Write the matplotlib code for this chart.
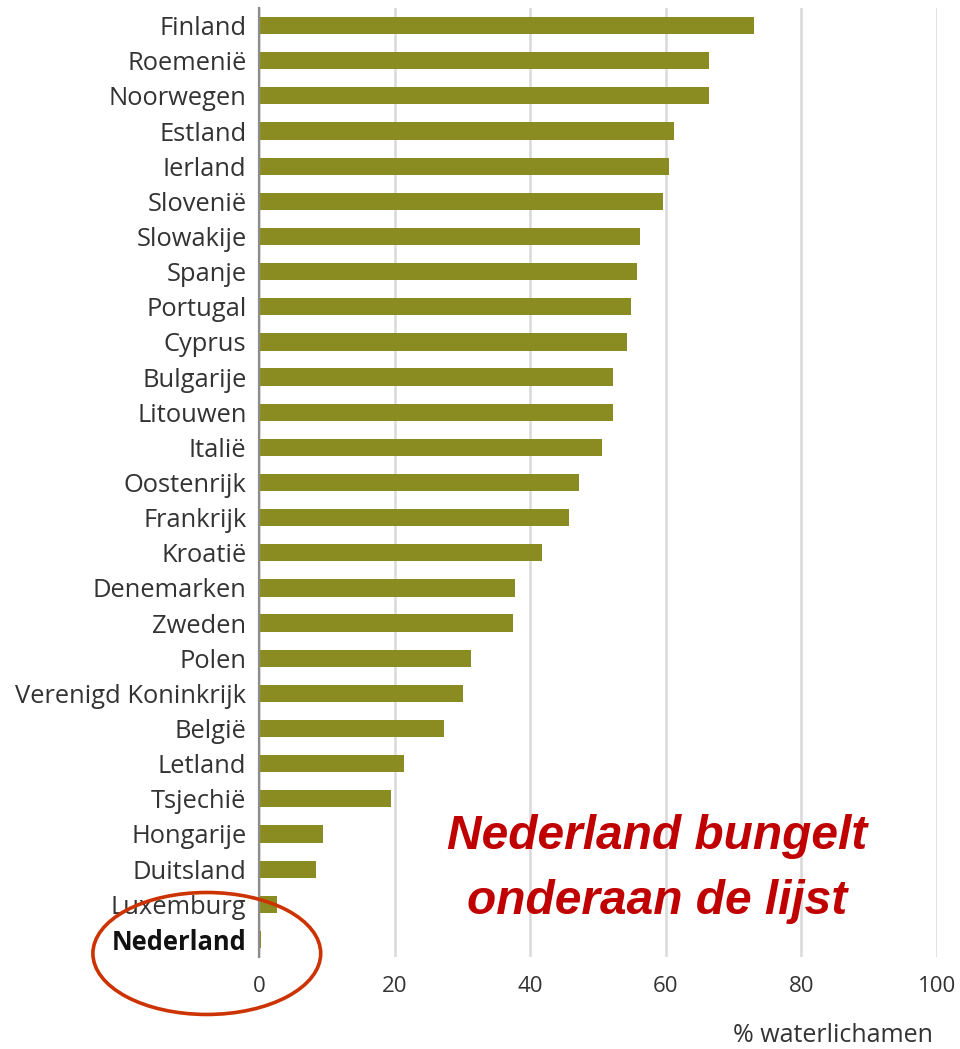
import matplotlib
matplotlib.use("Agg")
import matplotlib.pyplot as plt
from matplotlib.patches import Ellipse

countries = ["Finland", "Roemenië", "Noorwegen", "Estland", "Ierland", "Slovenië",
             "Slowakije", "Spanje", "Portugal", "Cyprus", "Bulgarije", "Litouwen",
             "Italië", "Oostenrijk", "Frankrijk", "Kroatië", "Denemarken", "Zweden",
             "Polen", "Verenigd Koninkrijk", "België", "Letland", "Tsjechië",
             "Hongarije", "Duitsland", "Luxemburg", "Nederland"]
values = [73.0, 66.4, 66.4, 61.2, 60.5, 59.6, 56.2, 55.8, 54.9, 54.3, 52.2, 52.2,
          50.6, 47.2, 45.7, 41.7, 37.8, 37.5, 31.3, 30.1, 27.3, 21.4, 19.5,
          9.4, 8.4, 2.7, 0.3]
xticks = [0, 20, 40, 60, 80, 100]
xlabel = "% waterlichamen"
note = ["Nederland bungelt", "onderaan de lijst"]

fig = plt.figure(figsize=(9.6, 10.49), dpi=100)
ax = fig.add_axes([259/960, 92/1049, 678/960, 949/1049])

ypos = list(range(len(countries)))
ax.barh(ypos, values, height=0.49, color="#8A8C22", zorder=3)
ax.set_xlim(0, 100)
ax.set_ylim(len(countries) - 0.5, -0.5)

for s in ["top", "right", "bottom"]:
    ax.spines[s].set_visible(False)
ax.spines["left"].set_color("#8c8c8c")
ax.spines["left"].set_linewidth(1.6)
ax.spines["left"].set_zorder(4)

ax.set_xticks(xticks)
ax.set_xticklabels([str(t) for t in xticks], fontsize=16, color="#333333", family="Open Sans")
ax.tick_params(axis="x", length=0, pad=14)
ax.tick_params(axis="y", length=0, pad=9)
ax.xaxis.grid(True, color="#d9d9d9", linewidth=1.8, zorder=0)
ax.set_yticks(ypos)
ax.set_yticklabels(countries, fontsize=18.4, color="#333333", family="Open Sans")
for lbl in ax.get_yticklabels():
    if lbl.get_text() == "Nederland":
        lbl.set_fontweight("bold")
        lbl.set_color("#111111")

fig.text(833/960, 1 - 1036/1049, xlabel, ha="center", va="center",
         fontsize=18, color="#333333", family="Open Sans")

ax.text(58.7, 23.42, note[0], ha="center", va="baseline", fontsize=34.5,
        fontweight="bold", fontstyle="italic", color="#C00000",
        family="Liberation Sans", zorder=5)
ax.text(58.7, 25.27, note[1], ha="center", va="baseline", fontsize=34.5,
        fontweight="bold", fontstyle="italic", color="#C00000",
        family="Liberation Sans", zorder=5)

ell = Ellipse((-7.7, 26.4), width=33.6, height=3.47, fill=False,
              edgecolor="#CC3300", linewidth=2.6, clip_on=False, zorder=6)
ax.add_patch(ell)

fig.savefig("out.png", dpi=100, facecolor="white")
